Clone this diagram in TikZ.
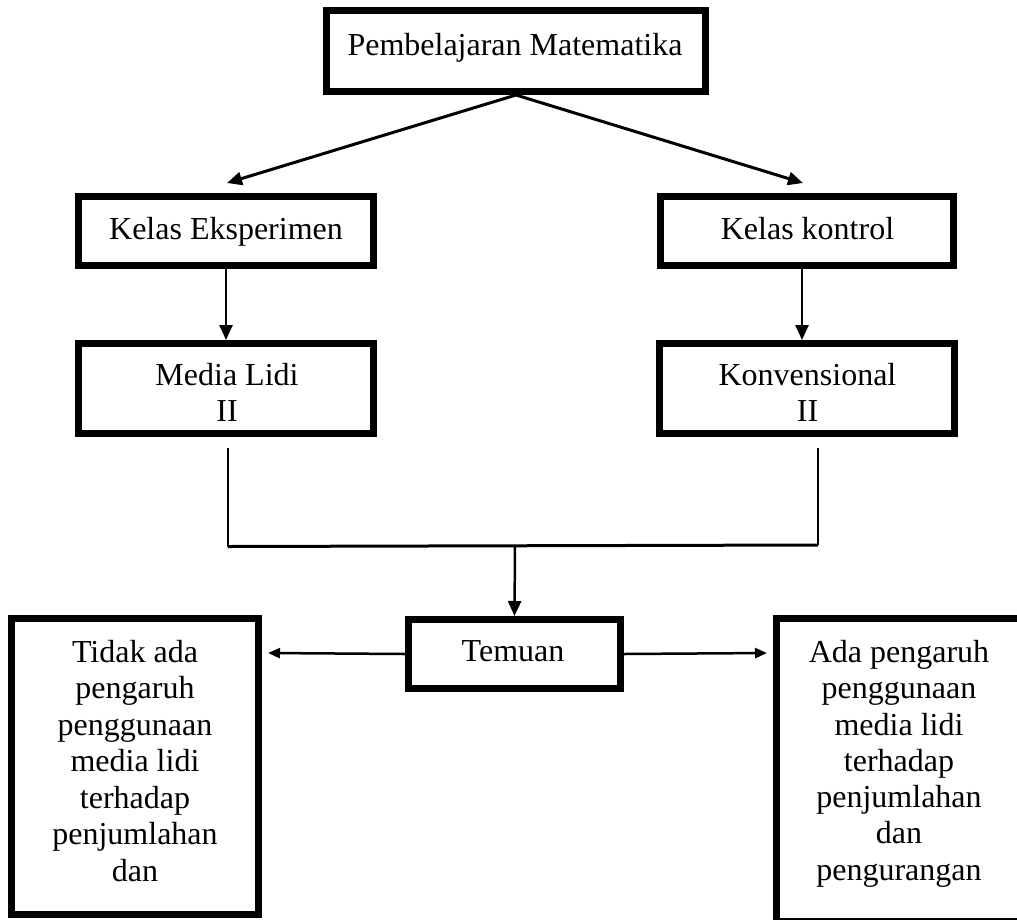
\documentclass[tikz,border=0pt]{standalone}
\usepackage{fontspec}
\setmainfont{Liberation Serif}
\usetikzlibrary{arrows.meta}
\begin{document}
\begin{tikzpicture}[x=1pt,y=-1pt,
  box/.style={draw, line width=7pt, inner sep=0pt, rectangle},
  txt/.style={inner sep=0pt, align=center, anchor=north, font=\fontsize{32}{36.5}\selectfont},
  arr/.style={line width=3pt, -{Triangle[length=15pt,width=13pt]}},
  varr/.style={line width=2.5pt, -{Triangle[length=15pt,width=13pt]}},
  harr/.style={line width=2.5pt, -{Triangle[length=12pt,width=10pt]}},
  thinline/.style={line width=2pt},
  joinline/.style={line width=3pt}]
\useasboundingbox (0,0) rectangle (1017,919);
\fill[white] (0,0) rectangle (1017,919);
\clip (0,0) rectangle (1017,919);

% boxes
\node[box, minimum width=379pt, minimum height=81pt] (top) at (516,51) {};
\node[box, minimum width=295pt, minimum height=69pt] (ke) at (226,231) {};
\node[box, minimum width=293pt, minimum height=69pt] (kk) at (807,231) {};
\node[box, minimum width=295pt, minimum height=90pt] (ml) at (226,388.5) {};
\node[box, minimum width=295pt, minimum height=90pt] (kv) at (807,388.5) {};
\node[box, minimum width=212pt, minimum height=69pt] (tem) at (514.5,654) {};
\node[box, minimum width=247pt, minimum height=296pt] (tl) at (135,766.5) {};
\node[box, minimum width=263.5pt, minimum height=303pt] (ta) at (908.25,770) {};

% texts
\node[txt] (tTop) at (515,33) {Pembelajaran Matematika};
\node[txt] (tKe) at (226,217) {Kelas Eksperimen};
\node[txt] (tKk) at (807.5,217) {Kelas kontrol};
\node[txt] (tMl) at (227,363) {Media Lidi\\II};
\node[txt] (tKv) at (807.5,363) {Konvensional\\II};
\node[txt] (tTem) at (513,640) {Temuan};
\node[txt] (tTl) at (135,640) {Tidak ada\\pengaruh\\penggunaan\\media lidi\\terhadap\\penjumlahan\\dan};
\node[txt, font=\fontsize{32}{36.3}\selectfont] (tTa) at (899,640) {Ada pengaruh\\penggunaan\\media lidi\\terhadap\\penjumlahan\\dan\\pengurangan};

% free connector ends
\coordinate (keTip) at (227,183);
\coordinate (kkTip) at (803,183);
\coordinate (mlA) at (228,448);
\coordinate (mlB) at (228,546.5);
\coordinate (kvA) at (818,448);
\coordinate (kvB) at (818,545);
\coordinate (jn) at (515,546);
\coordinate (tlTip) at (268,653);
\coordinate (taTip) at (767,653);

% connectors
\draw[arr] (top.south) -- (keTip);
\draw[arr] (top.south) -- (kkTip);
\draw[varr] (ke.south) -- (ml.north);
\draw[varr] ([xshift=-5pt]kk.south) -- ([xshift=-5pt]kv.north);
\draw[thinline] (mlA) -- (mlB);
\draw[thinline] (kvA) -- (kvB);
\draw[joinline] (mlB) -- (kvB);
\draw[varr] (jn) -- (tem.north);
\draw[harr] (tem.west) -- (tlTip);
\draw[harr] (tem.east) -- (taTip);
\end{tikzpicture}
\end{document}
